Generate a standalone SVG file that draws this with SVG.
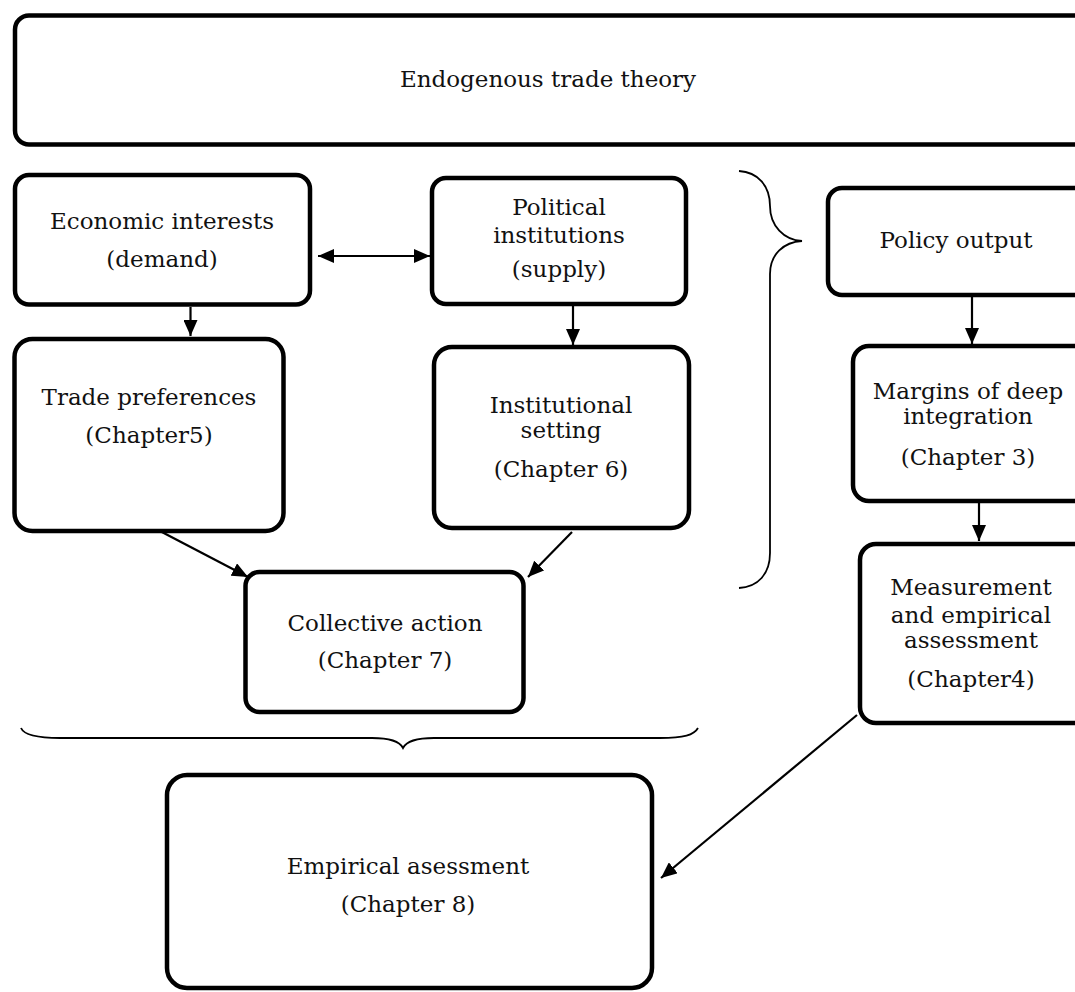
<svg xmlns="http://www.w3.org/2000/svg" width="1075" height="992" viewBox="0 0 1075 992">
<style>
.box{fill:#fff;stroke:#000;stroke-width:4.5}
.t{font-family:"DejaVu Serif","Liberation Serif",serif;font-size:23px;fill:#111;text-anchor:middle}
.c{fill:none;stroke:#000;stroke-width:2.2}
.br{fill:none;stroke:#000;stroke-width:1.8}
</style>
<defs>
<marker id="ah" viewBox="0 0 16 14" refX="16" refY="7" markerWidth="16" markerHeight="14" markerUnits="userSpaceOnUse" orient="auto-start-reverse">
<path d="M0,0 L16,7 L0,14 z" fill="#000"/>
</marker>
</defs>
<rect width="1075" height="992" fill="#fff"/>
<g id="n-theory"><rect class="box" x="15" y="15.5" width="1080" height="129" rx="14"/><text class="t" x="548" y="87">Endogenous trade theory</text></g>
<g id="n-econ"><rect class="box" x="15" y="175" width="295" height="129.5" rx="14"/><text class="t" x="162" y="229">Economic interests</text><text class="t" x="162" y="267">(demand)</text></g>
<g id="n-political"><rect class="box" x="432" y="178" width="254" height="126" rx="14"/><text class="t" x="559" y="215">Political</text><text class="t" x="559" y="243">institutions</text><text class="t" x="559" y="277">(supply)</text></g>
<g id="n-policy"><rect class="box" x="828" y="188" width="270" height="107" rx="14"/><text class="t" x="956" y="248">Policy output</text></g>
<g id="n-trade"><rect class="box" x="14.5" y="339" width="269" height="192" rx="18"/><text class="t" x="149" y="405">Trade preferences</text><text class="t" x="149" y="443">(Chapter5)</text></g>
<g id="n-inst"><rect class="box" x="434" y="347" width="255" height="181" rx="18"/><text class="t" x="561" y="413">Institutional</text><text class="t" x="561" y="438">setting</text><text class="t" x="561" y="477">(Chapter 6)</text></g>
<g id="n-margins"><rect class="box" x="853" y="346" width="250" height="155" rx="16"/><text class="t" x="968" y="399">Margins of deep</text><text class="t" x="968" y="424">integration</text><text class="t" x="968" y="465">(Chapter 3)</text></g>
<g id="n-measure"><rect class="box" x="860" y="544" width="250" height="179" rx="16"/><text class="t" x="971" y="595">Measurement</text><text class="t" x="971" y="623">and empirical</text><text class="t" x="971" y="648">assessment</text><text class="t" x="971" y="687">(Chapter4)</text></g>
<g id="n-collective"><rect class="box" x="245.5" y="572" width="278" height="140" rx="14"/><text class="t" x="385" y="631">Collective action</text><text class="t" x="385" y="668">(Chapter 7)</text></g>
<g id="n-empirical"><rect class="box" x="167" y="775" width="485" height="213" rx="20"/><text class="t" x="408" y="874">Empirical asessment</text><text class="t" x="408" y="912">(Chapter 8)</text></g>
<g id="connectors">
<line class="c" x1="318" y1="256" x2="430" y2="256" marker-start="url(#ah)" marker-end="url(#ah)"/>
<line class="c" x1="190.5" y1="307" x2="190.5" y2="336" marker-end="url(#ah)"/>
<line class="c" x1="573" y1="306" x2="573" y2="345" marker-end="url(#ah)"/>
<line class="c" x1="972" y1="297" x2="972" y2="344" marker-end="url(#ah)"/>
<line class="c" x1="979" y1="503" x2="979" y2="541" marker-end="url(#ah)"/>
<line class="c" x1="158" y1="530" x2="248" y2="577" marker-end="url(#ah)"/>
<line class="c" x1="572" y1="532" x2="528" y2="577" marker-end="url(#ah)"/>
<line class="c" x1="857" y1="715" x2="661" y2="878" marker-end="url(#ah)"/>
</g>
<g id="braces">
<path class="br" d="M739,171 C758,172 770,186 770,206 C770,226 784,240 802,241 C784,242 770,254 770,274 L770,553 C770,574 758,587 739,588"/>
<path class="br" d="M21,728 C24,735 36,738 60,738 L372,738 C390,738 400,742 403,748 C406,742 416,738 434,738 L660,738 C684,738 694,735 698,728"/>
</g>
</svg>
